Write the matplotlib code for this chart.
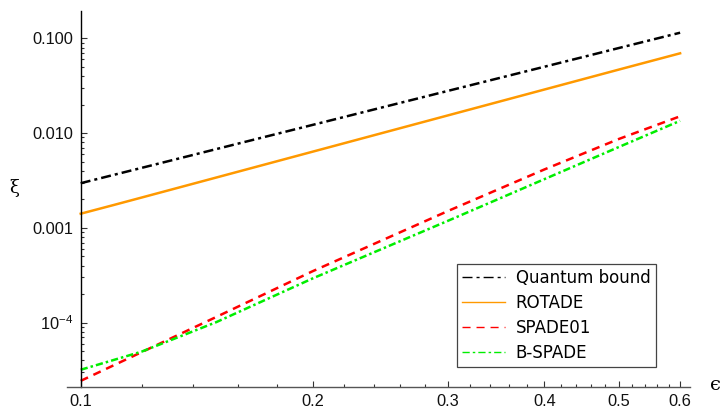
import matplotlib
matplotlib.use("Agg")
import matplotlib.pyplot as plt
from matplotlib.ticker import FixedLocator, FixedFormatter, NullFormatter
import numpy as np

# ---- data ----
eps = [0.10, 0.11, 0.12, 0.15, 0.20, 0.30, 0.40, 0.50, 0.60]
quantum_bound = [2.96e-3, 3.60e-3, 4.30e-3, 6.79e-3, 1.222e-2, 2.80e-2, 5.03e-2, 7.94e-2, 0.115]
rotade = [1.41e-3, 1.73e-3, 2.09e-3, 3.40e-3, 6.37e-3, 1.543e-2, 2.89e-2, 4.70e-2, 6.97e-2]
spade01 = [2.42e-5, 3.49e-5, 4.87e-5, 1.146e-4, 3.48e-4, 1.51e-3, 4.14e-3, 8.70e-3, 1.507e-2]
bspade = [3.17e-5, 3.99e-5, 4.93e-5, 1.01e-4, 2.92e-4, 1.19e-3, 3.27e-3, 7.16e-3, 1.35e-2]

labels = ["Quantum bound", "ROTADE", "SPADE01", "B-SPADE"]
x_major = [0.1, 0.2, 0.3, 0.4, 0.5, 0.6]
x_major_labels = ["0.1", "0.2", "0.3", "0.4", "0.5", "0.6"]
y_major = [1e-4, 1e-3, 1e-2, 1e-1]
y_major_labels = ["10$^{-4}$", "0.001", "0.010", "0.100"]

plt.rcParams['lines.scale_dashes'] = False
plt.rcParams['mathtext.fontset'] = 'custom'
plt.rcParams['mathtext.rm'] = 'Liberation Sans'
plt.rcParams['mathtext.it'] = 'Liberation Sans'

fig = plt.figure(figsize=(7.21, 4.09), dpi=100)
ax = fig.add_axes([66.7 / 721, 1 - 386.7 / 409, (690 - 66.7) / 721, (386.7 - 11) / 409])

lw = 1.8
l1, = ax.plot(eps, quantum_bound, color='black', lw=lw, dashes=(7.2, 2.9, 2.2, 2.9), label=labels[0])
l2, = ax.plot(eps, rotade, color='#FF9900', lw=lw, label=labels[1])
l3, = ax.plot(eps, spade01, color='#FF0000', lw=lw, dashes=(5.8, 4.3), label=labels[2])
l4, = ax.plot(eps, bspade, color='#00EE00', lw=lw, dashes=(5.2, 2.2, 1.8, 2.2), label=labels[3])

ax.set_xscale('log')
ax.set_yscale('log')
ax.set_xlim(0.0959, 0.618)
ax.set_ylim(2.1e-5, 0.195)

for s in ['top', 'right']:
    ax.spines[s].set_visible(False)
ax.spines['left'].set_position(('data', 0.1))
ax.spines['left'].set_color('black')
ax.spines['bottom'].set_color('#555555')
ax.spines['left'].set_linewidth(1.0)
ax.spines['bottom'].set_linewidth(1.0)

ax.xaxis.set_major_locator(FixedLocator(x_major))
ax.xaxis.set_major_formatter(FixedFormatter(x_major_labels))
x_minor = [v for v in np.round(np.arange(0.12, 0.62, 0.02), 2) if not any(abs(v - m) < 1e-9 for m in x_major)]
ax.xaxis.set_minor_locator(FixedLocator(x_minor))
ax.xaxis.set_minor_formatter(NullFormatter())

ax.yaxis.set_major_locator(FixedLocator(y_major))
ax.yaxis.set_major_formatter(FixedFormatter(y_major_labels))
y_minor = [m * 10.0 ** e for e in range(-5, 0) for m in range(2, 10)]
ax.yaxis.set_minor_locator(FixedLocator(y_minor))
ax.yaxis.set_minor_formatter(NullFormatter())

ax.tick_params(axis='both', which='both', direction='in', color='#333333', width=0.8)
ax.tick_params(axis='x', which='major', length=4, pad=5.5)
ax.tick_params(axis='x', which='minor', length=2.2)
ax.tick_params(axis='y', which='major', length=4.5, pad=5.5)
ax.tick_params(axis='y', which='minor', length=2.5)
for t in ax.get_xticklabels() + ax.get_yticklabels():
    t.set_fontfamily('Liberation Sans')
    t.set_fontsize(11.8)
    t.set_color('#111111')

fig.text(14 / 721, 1 - 188 / 409, 'ξ', fontsize=13, family='DejaVu Serif',
         ha='center', va='center')
fig.text(715 / 721, 1 - 385 / 409, 'ϵ', fontsize=14, family='DejaVu Serif',
         ha='center', va='center')

leg = ax.legend(handles=[l1, l2, l3, l4], loc='lower left',
                bbox_to_anchor=((456.7 - 66.7) / 623.3, (386.7 - 366.7) / 375.7),
                borderaxespad=0, fancybox=False, framealpha=1, edgecolor='#444444',
                prop={'family': 'DejaVu Sans', 'size': 12},
                handlelength=2.6, handletextpad=0.65, labelspacing=0.42, borderpad=0.3)
leg.get_frame().set_linewidth(0.9)
for h in leg.get_lines():
    h.set_linewidth(1.0)

fig.savefig('out.png', dpi=100)
